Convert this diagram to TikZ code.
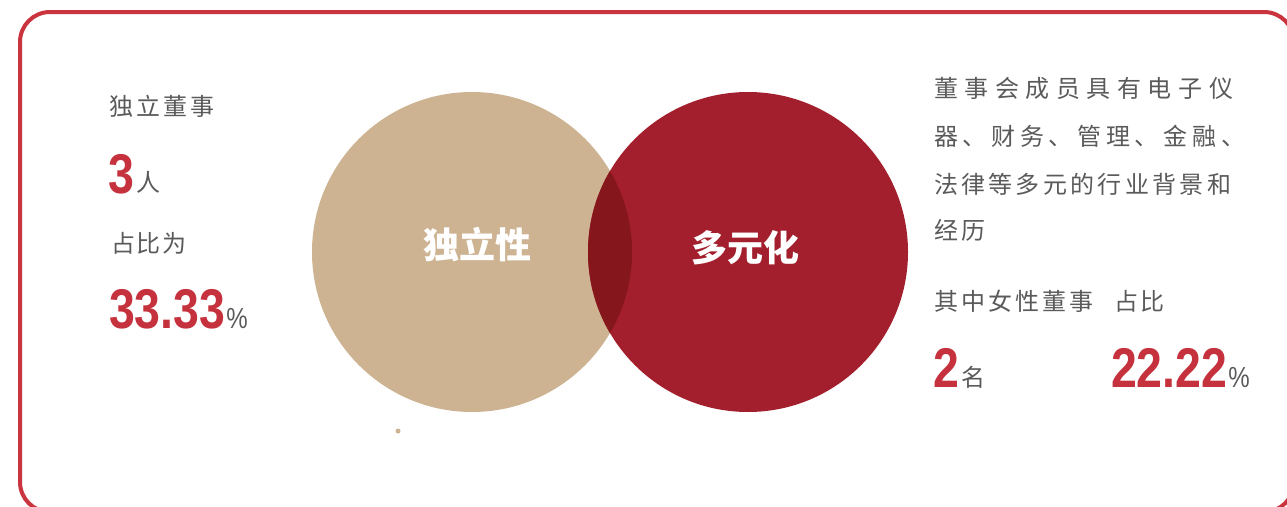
\documentclass[tikz,border=0pt]{standalone}
\usepackage{fontspec}
\newfontfamily\cjk{Noto Sans CJK SC}
\newfontfamily\numfont[FakeStretch=0.83]{Liberation Sans}
\newcommand\spreadbox[2]{\makebox[#1][s]{#2}}
\definecolor{frame}{HTML}{C9343F}
\definecolor{numred}{HTML}{C5323D}
\definecolor{textgray}{HTML}{5A5A5A}
\definecolor{beige}{HTML}{CDB392}
\definecolor{wine}{HTML}{A31F2D}
\definecolor{lens}{HTML}{85161B}
\tikzset{
  txt/.style={inner sep=0pt, outer sep=0pt, text=textgray, font=\cjk\fontsize{24}{24}\selectfont},
  bignum/.style={inner sep=0pt, outer sep=0pt, text=numred, font=\numfont\bfseries\fontsize{56}{56}\selectfont},
  pct/.style={inner sep=0pt, outer sep=0pt, text=textgray, font=\numfont\fontsize{29}{29}\selectfont},
  disc/.style={circle, inner sep=0pt, minimum size=320pt},
  label/.style={inner sep=0pt, text=white, font=\cjk\bfseries\fontsize{36}{36}\selectfont},
}
\begin{document}
\begin{tikzpicture}[x=1pt,y=-1pt]
\useasboundingbox (0,0) rectangle (1287,506);
\clip (0,0) rectangle (1287,506);
% frame
\draw[frame, line width=4pt, rounded corners=30pt] (20,12) rectangle (1294,512);
% circles
\node[disc, fill=beige] (cl) at (472,252) {};
\node[disc, fill=wine] (cr) at (748,252) {};
\begin{scope}
  \clip (cl.center) circle[radius=160pt];
  \fill[lens] (cr.center) circle[radius=160pt];
\end{scope}
\node[label] (lbl1) at (477,245) {独立性};
\node[label] (lbl2) at (745,248) {多元化};
\fill[beige] (398,431) circle[radius=2.5pt];
% left texts
\node[txt, anchor=west] (t1) at (109,106) {\spreadbox{105pt}{独\hfil 立\hfil 董\hfil 事}};
\node[bignum, anchor=base west] (n1) at (108,193) {3};
\node[txt, anchor=south west] (u1) at (136,193) {人};
\node[txt, anchor=west] (t2) at (111,243) {\spreadbox{76pt}{占\hfil 比\hfil 为}};
\node[bignum, anchor=base west] (n2) at (109,328) {33.33};
\node[pct, anchor=base west] (p1) at ([xshift=1pt]n2.base east) {\%};
% right texts
\node[txt, anchor=west] (r1) at (934,88) {\spreadbox{299pt}{董\hfil 事\hfil 会\hfil 成\hfil 员\hfil 具\hfil 有\hfil 电\hfil 子\hfil 仪}};
\node[txt, anchor=west] (r2) at (934,136) {\spreadbox{311pt}{器\hfil 、\hfil 财\hfil 务\hfil 、\hfil 管\hfil 理\hfil 、\hfil 金\hfil 融\hfil 、}};
\node[txt, anchor=west] (r3) at (934,184) {\spreadbox{297pt}{法\hfil 律\hfil 等\hfil 多\hfil 元\hfil 的\hfil 行\hfil 业\hfil 背\hfil 景\hfil 和}};
\node[txt, anchor=west] (r4) at (934,230) {\spreadbox{51pt}{经\hfil 历}};
\node[txt, anchor=west] (q1) at (934,301) {\spreadbox{159pt}{其\hfil 中\hfil 女\hfil 性\hfil 董\hfil 事}};
\node[txt, anchor=west] (q2) at (1114,301) {\spreadbox{50pt}{占\hfil 比}};
\node[bignum, anchor=base west] (n3) at (933,387) {2};
\node[txt, anchor=south west] (u3) at (961,388) {名};
\node[bignum, anchor=base west] (n4) at (1111,387) {22.22};
\node[pct, anchor=base west] (p4) at ([xshift=1pt]n4.base east) {\%};
\end{tikzpicture}
\end{document}
